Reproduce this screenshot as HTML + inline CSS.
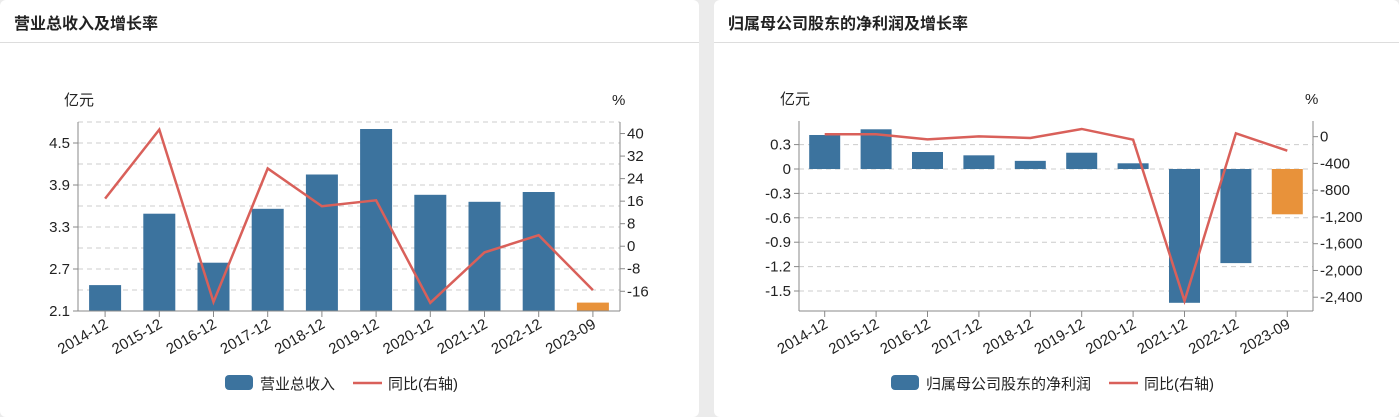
<!DOCTYPE html>
<html><head><meta charset="utf-8">
<style>
body{margin:0;width:1399px;height:417px;background:#ebebeb;overflow:hidden;font-family:"Liberation Sans","Noto Sans CJK SC",sans-serif;}
.panel{position:absolute;top:0;height:417px;background:#fff;border-radius:6px;}
.title{position:absolute;left:14px;top:10px;font-size:16px;font-weight:bold;color:#222;}
.hr{position:absolute;left:0;right:0;top:42px;height:1px;background:#ddd;}
svg{position:absolute;left:0;top:0;}
text{font-family:"Liberation Sans","Noto Sans CJK SC",sans-serif;fill:#222;}
</style></head><body>
<div class="panel" style="left:0;width:699px;">
<div class="title">营业总收入及增长率</div><div class="hr"></div></div>
<div class="panel" style="left:714px;width:685px;">
<div class="title">归属母公司股东的净利润及增长率</div><div class="hr"></div></div>
<svg id="svg" width="1399" height="417"></svg>
<script>
const categories=["2014-12","2015-12","2016-12","2017-12","2018-12","2019-12","2020-12","2021-12","2022-12","2023-09"];
const revenue=[2.47,3.49,2.79,3.56,4.05,4.70,3.76,3.66,3.80,2.22];
const revenueGrowth=[16.9,41.4,-19.8,27.6,14.2,16.3,-20.1,-2.2,3.9,-15.6];
const revLeftTicks=["2.1","2.7","3.3","3.9","4.5"];
const revRightTicks=[-16,-8,0,8,16,24,32,40];
const profit=[0.418,0.488,0.209,0.168,0.10,0.20,0.07,-1.645,-1.157,-0.557];
const profitGrowth=[36,36,-40,5,-20,115,-45,-2455,50,-210];
const profLeftTicks=["-1.5","-1.2","-0.9","-0.6","-0.3","0","0.3"];
const profRightTicks=[-2400,-2000,-1600,-1200,-800,-400,0];
const NS="http://www.w3.org/2000/svg";
const svg=document.getElementById('svg');
function el(t,a,txt){const e=document.createElementNS(NS,t);for(const k in a)e.setAttribute(k,a[k]);if(txt!==undefined)e.textContent=txt;svg.appendChild(e);return e;}
function fmt(v){return v.toLocaleString('en-US');}
function chart(c){
  const {x0,x1,top,bottom,lmin,lmax,rmin,rmax,vals,growth,lticks,rticks,grid,name,legX,legName,unitX}=c;
  const ly=v=>bottom-(v-lmin)/(lmax-lmin)*(bottom-top);
  const ry=v=>bottom-(v-rmin)/(rmax-rmin)*(bottom-top);
  const band=(x1-x0)/categories.length;
  const cx=i=>x0+band*(i+0.5);
  grid.forEach(g=>{const l=el('line',{x1:x0,x2:x1,y1:ly(g),y2:ly(g),stroke:'#ccc','stroke-dasharray':'5,4'});
    });
  const zeroY=Math.min(Math.max(ly(0),top),bottom);
  vals.forEach((v,i)=>{const y0=lmin>0?bottom:zeroY;const y=ly(v);
    const r=el('rect',{x:cx(i)-c.bw/2,y:Math.min(y,y0),width:c.bw,height:Math.abs(y0-y),fill:i==vals.length-1?'#e8923a':'#3c739e'});
    });
  const pts=growth.map((g,i)=>cx(i)+','+ry(g)).join(' ');
  const pl=el('polyline',{points:pts,fill:'none',stroke:'#d9605a','stroke-width':2.5});
  
  el('line',{x1:x0,x2:x0,y1:top,y2:bottom,stroke:'#888'});
  el('line',{x1:x1,x2:x1,y1:top,y2:bottom,stroke:'#888'});
  el('line',{x1:x0,x2:x1,y1:bottom,y2:bottom,stroke:'#888'});
  lticks.forEach(t=>{const y=ly(+t);el('line',{x1:x0-5,x2:x0,y1:y,y2:y,stroke:'#888'});
    const tx=el('text',{x:x0-8,y:y+5,'text-anchor':'end','font-size':15},t);
    });
  rticks.forEach(t=>{const y=ry(t);el('line',{x1:x1,x2:x1+5,y1:y,y2:y,stroke:'#888'});
    const tx=el('text',{x:x1+7,y:y+5,'font-size':15},fmt(t));
    });
  categories.forEach((cat,i)=>{const x=cx(i);el('line',{x1:x,x2:x,y1:bottom,y2:bottom+6,stroke:'#888'});
    const tx=el('text',{x:x+4,y:bottom+16,'text-anchor':'end','font-size':15,transform:`rotate(-30 ${x+4} ${bottom+16})`},cat);
    });
  let u=el('text',{x:unitX,y:top-17,'font-size':15},'亿元');
  u=el('text',{x:x1-8,y:top-17,'font-size':15},'%');
  const r=el('rect',{x:legX,y:375,width:28,height:15,rx:4,fill:'#3c739e'});
  const lt=el('text',{x:legX+35,y:389,'font-size':15},legName);
  const lx=legX+35+legName.length*15+18;
  el('line',{x1:lx,x2:lx+29,y1:383,y2:383,stroke:'#d9605a','stroke-width':2.5});
  const lt2=el('text',{x:lx+35,y:389,'font-size':15},'同比(右轴)');
}
chart({x0:78,x1:620,top:122,bottom:311,lmin:2.1,lmax:4.8,rmin:-23,rmax:44.1,bw:32,vals:revenue,growth:revenueGrowth,
  lticks:revLeftTicks,rticks:revRightTicks,grid:[2.4,2.7,3.0,3.3,3.6,3.9,4.2,4.5,4.8],legX:225,legName:'营业总收入',unitX:64});
chart({x0:799,x1:1313,top:121,bottom:311,lmin:-1.7457,lmax:0.59,rmin:-2606,rmax:234,bw:31,vals:profit,growth:profitGrowth,
  lticks:profLeftTicks,rticks:profRightTicks,grid:[0.3,0,-0.3,-0.6,-0.9,-1.2,-1.5],legX:891,legName:'归属母公司股东的净利润',unitX:780});
</script>
</body></html>
